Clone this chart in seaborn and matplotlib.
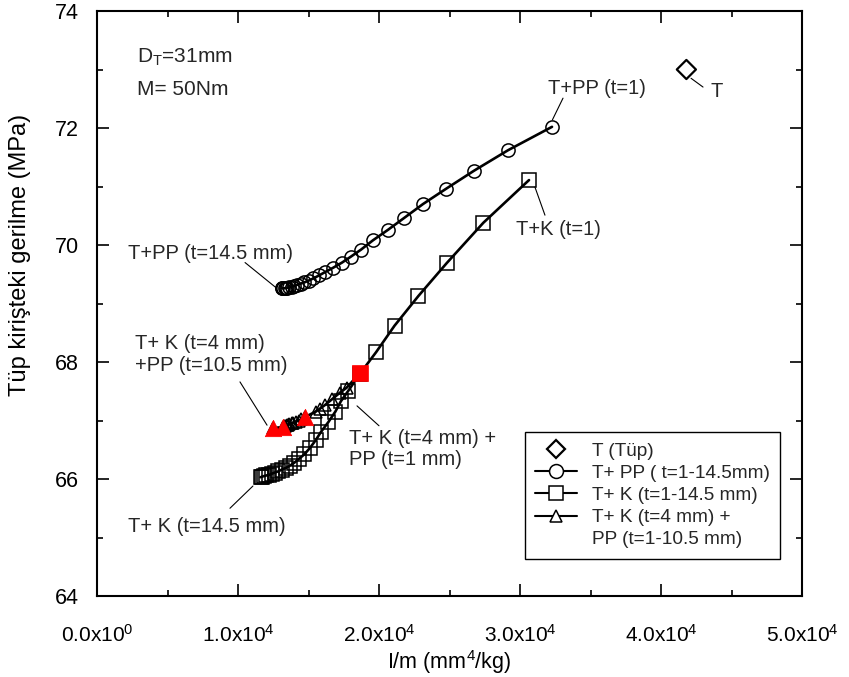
import matplotlib
matplotlib.use("Agg")
import matplotlib.pyplot as plt
import seaborn as sns
import pandas as pd
from matplotlib.ticker import FixedLocator, MultipleLocator
from matplotlib.lines import Line2D

# ---------------- data ----------------
tube_x = [41800]
tube_y = [73.0]

# T + PP, t = 1 ... 14.5 mm
pp_t = [1, 1.5, 2, 2.5, 3, 3.5, 4, 4.5, 5, 5.5, 6, 6.5, 7, 7.5,
        8, 8.5, 9, 9.5, 10, 10.5, 11, 11.5, 12, 12.5, 13, 13.5, 14, 14.5]
pp_x = [32270, 29150, 26740, 24750, 23120, 21770, 20640, 19570, 18720, 18000,
        17380, 16740, 16200, 15750, 15350, 15000, 14700, 14450, 14200, 14000,
        13800, 13650, 13500, 13400, 13300, 13200, 13150, 13100]
pp_y = [72.02, 71.62, 71.27, 70.96, 70.70, 70.46, 70.26, 70.08, 69.92, 69.80,
        69.70, 69.61, 69.54, 69.48, 69.43, 69.39, 69.36, 69.34, 69.32, 69.30,
        69.29, 69.28, 69.27, 69.27, 69.26, 69.26, 69.26, 69.26]

# T + K, t = 1 ... 14.5 mm
k_t = pp_t
k_x = [30640, 27400, 24800, 22800, 21100, 19800, 18650, 17800, 17300, 16900,
       16400, 15900, 15500, 15100, 14700, 14300, 14000, 13700, 13400, 13100,
       12850, 12600, 12400, 12200, 12000, 11850, 11700, 11600]
k_y = [71.11, 70.38, 69.69, 69.13, 68.62, 68.17, 67.80, 67.50, 67.33, 67.15,
       66.97, 66.81, 66.66, 66.53, 66.42, 66.34, 66.28, 66.23, 66.19, 66.16,
       66.13, 66.11, 66.09, 66.07, 66.06, 66.05, 66.04, 66.03]

# T + K (t=4 mm) + PP, t = 1 ... 10.5 mm
kpp_t = [1, 1.5, 2, 2.5, 3, 3.5, 4, 4.5, 5, 5.5,
         6, 6.5, 7, 7.5, 8, 8.5, 9, 9.5, 10, 10.5]
kpp_x = [18650, 17700, 17200, 16700, 16200, 15800, 15500, 14750, 14500, 14300,
         14100, 13900, 13800, 13650, 13550, 13450, 13350, 13300, 13200, 12500]
kpp_y = [67.81, 67.56, 67.47, 67.37, 67.27, 67.20, 67.15, 67.06, 67.02, 67.00,
         66.98, 66.96, 66.95, 66.94, 66.93, 66.92, 66.91, 66.90, 66.89, 66.87]

red_tri_x = [14750, 13200, 12500]
red_tri_y = [67.06, 66.89, 66.87]
red_sq_x = [18650]
red_sq_y = [67.81]

xticks = [0, 10000, 20000, 30000, 40000, 50000]
xtick_labels = [r"$\mathregular{0.0x10^{0}}$", r"$\mathregular{1.0x10^{4}}$",
                r"$\mathregular{2.0x10^{4}}$", r"$\mathregular{3.0x10^{4}}$",
                r"$\mathregular{4.0x10^{4}}$", r"$\mathregular{5.0x10^{4}}$"]
yticks = [64, 66, 68, 70, 72, 74]

legend_labels = ["T (Tüp)", "T+ PP ( t=1-14.5mm)", "T+ K (t=1-14.5 mm)",
                 "T+ K (t=4 mm) +", "PP (t=1-10.5 mm)"]

# ---------------- style ----------------
sns.set_theme(style="ticks")
plt.rcParams["font.family"] = ["Liberation Sans", "DejaVu Sans"]
plt.rcParams["mathtext.default"] = "regular"

fig = plt.figure(figsize=(8.49, 6.77), dpi=100)
ax = fig.add_axes([97 / 849, 1 - 596 / 677, 705 / 849, 585 / 677])

df_pp = pd.DataFrame({"x": pp_x, "y": pp_y, "t": pp_t})
df_k = pd.DataFrame({"x": k_x, "y": k_y, "t": k_t})
df_kpp = pd.DataFrame({"x": kpp_x, "y": kpp_y, "t": kpp_t})

line_kw = dict(color="black", linewidth=1.9, estimator=None, sort=False,
               legend=False, markerfacecolor="none", markeredgecolor="black",
               markeredgewidth=1.1)
sns.lineplot(data=df_pp, x="x", y="y", marker="o", markersize=9.5, ax=ax, **line_kw)
sns.lineplot(data=df_k, x="x", y="y", marker="s", markersize=10, ax=ax, **line_kw)
sns.lineplot(data=df_kpp, x="x", y="y", marker="^", markersize=9, ax=ax, **line_kw)

sns.scatterplot(x=tube_x, y=tube_y, marker="D", s=95, facecolor="none",
                edgecolor="black", linewidth=1.6, ax=ax, legend=False, zorder=5)
sns.scatterplot(x=red_tri_x, y=red_tri_y, marker="^", s=140, color="#ff0000",
                edgecolor="#ff0000", linewidth=0.5, ax=ax, legend=False, zorder=6)
sns.scatterplot(x=red_sq_x, y=red_sq_y, marker="s", s=140, color="#ff0000",
                edgecolor="#ff0000", linewidth=0.5, ax=ax, legend=False, zorder=6)

# axes
ax.set_xlim(0, 50000)
ax.set_ylim(64, 74)
ax.xaxis.set_major_locator(FixedLocator(xticks))
ax.set_xticklabels(xtick_labels, fontsize=15)
ax.xaxis.set_minor_locator(MultipleLocator(5000))
ax.set_yticks(yticks)
ax.set_yticklabels([str(v) for v in yticks], fontsize=15.5)
ax.yaxis.set_minor_locator(MultipleLocator(1))
ax.tick_params(which="both", direction="in", top=True, right=True,
               width=1.2, color="black", labelcolor="black")
ax.tick_params(which="major", length=8.5)
ax.tick_params(which="minor", length=4.5)
ax.tick_params(axis="x", which="major", pad=20)
ax.tick_params(axis="y", which="major", pad=13)
for sp in ax.spines.values():
    sp.set_linewidth(1.5)
    sp.set_color("black")

ax.set_xlabel(r"I/m (mm$^{4}$/kg)", fontsize=15.5, labelpad=2, color="black")
ax.set_ylabel("Tüp kirişteki gerilme (MPa)", fontsize=17, color="black")
ax.yaxis.set_label_coords(-0.094, 0.583)

# annotations
fs = 14.5
ax.text(2840, 73.2, r"D$_\mathregular{T}$=31mm", fontsize=fs + 0.5, va="center")
ax.text(2840, 72.65, "M= 50Nm", fontsize=fs + 0.5, va="center")


def note(txt, tx, ty, p0, p1):
    ax.text(tx, ty, txt, fontsize=fs, va="center", ha="left", linespacing=1.15)
    ax.annotate("", xy=p1, xytext=p0,
                arrowprops=dict(arrowstyle="-", color="black", lw=0.8,
                                shrinkA=0, shrinkB=0))


note("T+PP (t=1)", 31990, 72.68, (32300, 72.14), (33050, 72.51))
note("T+K (t=1)", 29720, 70.27, (31060, 70.99), (31770, 70.51))
note("T", 43480, 72.62, (42130, 72.85), (42980, 72.70))
note("T+PP (t=14.5 mm)", 2200, 69.85, (10500, 69.70), (12700, 69.27))
note("T+ K (t=4 mm)\n+PP (t=10.5 mm)", 2700, 68.13, (10140, 67.66), (12060, 66.92))
note("T+ K (t=4 mm) +\nPP (t=1 mm)", 17870, 66.51, (18440, 67.25), (20000, 66.91))
note("T+ K (t=14.5 mm)", 2200, 65.18, (9430, 65.50), (11060, 65.88))

# legend
handles = [
    Line2D([], [], marker="D", ls="none", mfc="none", mec="black", ms=9, mew=1.6),
    Line2D([], [], marker="o", ls="-", lw=1.5, color="black", mfc="white", mec="black", ms=10, mew=1.1),
    Line2D([], [], marker="s", ls="-", lw=1.5, color="black", mfc="white", mec="black", ms=10, mew=1.1),
    Line2D([], [], marker="^", ls="-", lw=1.5, color="black", mfc="white", mec="black", ms=8, mew=1.1),
    Line2D([], [], ls="none", marker=None),
]
leg = ax.legend(handles, legend_labels, loc="upper left",
                bbox_to_anchor=(0.607, 0.280), fontsize=13.7, frameon=True,
                fancybox=False, framealpha=1, edgecolor="black",
                handlelength=2.2, handletextpad=0.75, labelspacing=0.25,
                borderpad=0.55, borderaxespad=0)
leg.get_frame().set_linewidth(1.0)

fig.savefig("out.png", dpi=100)
